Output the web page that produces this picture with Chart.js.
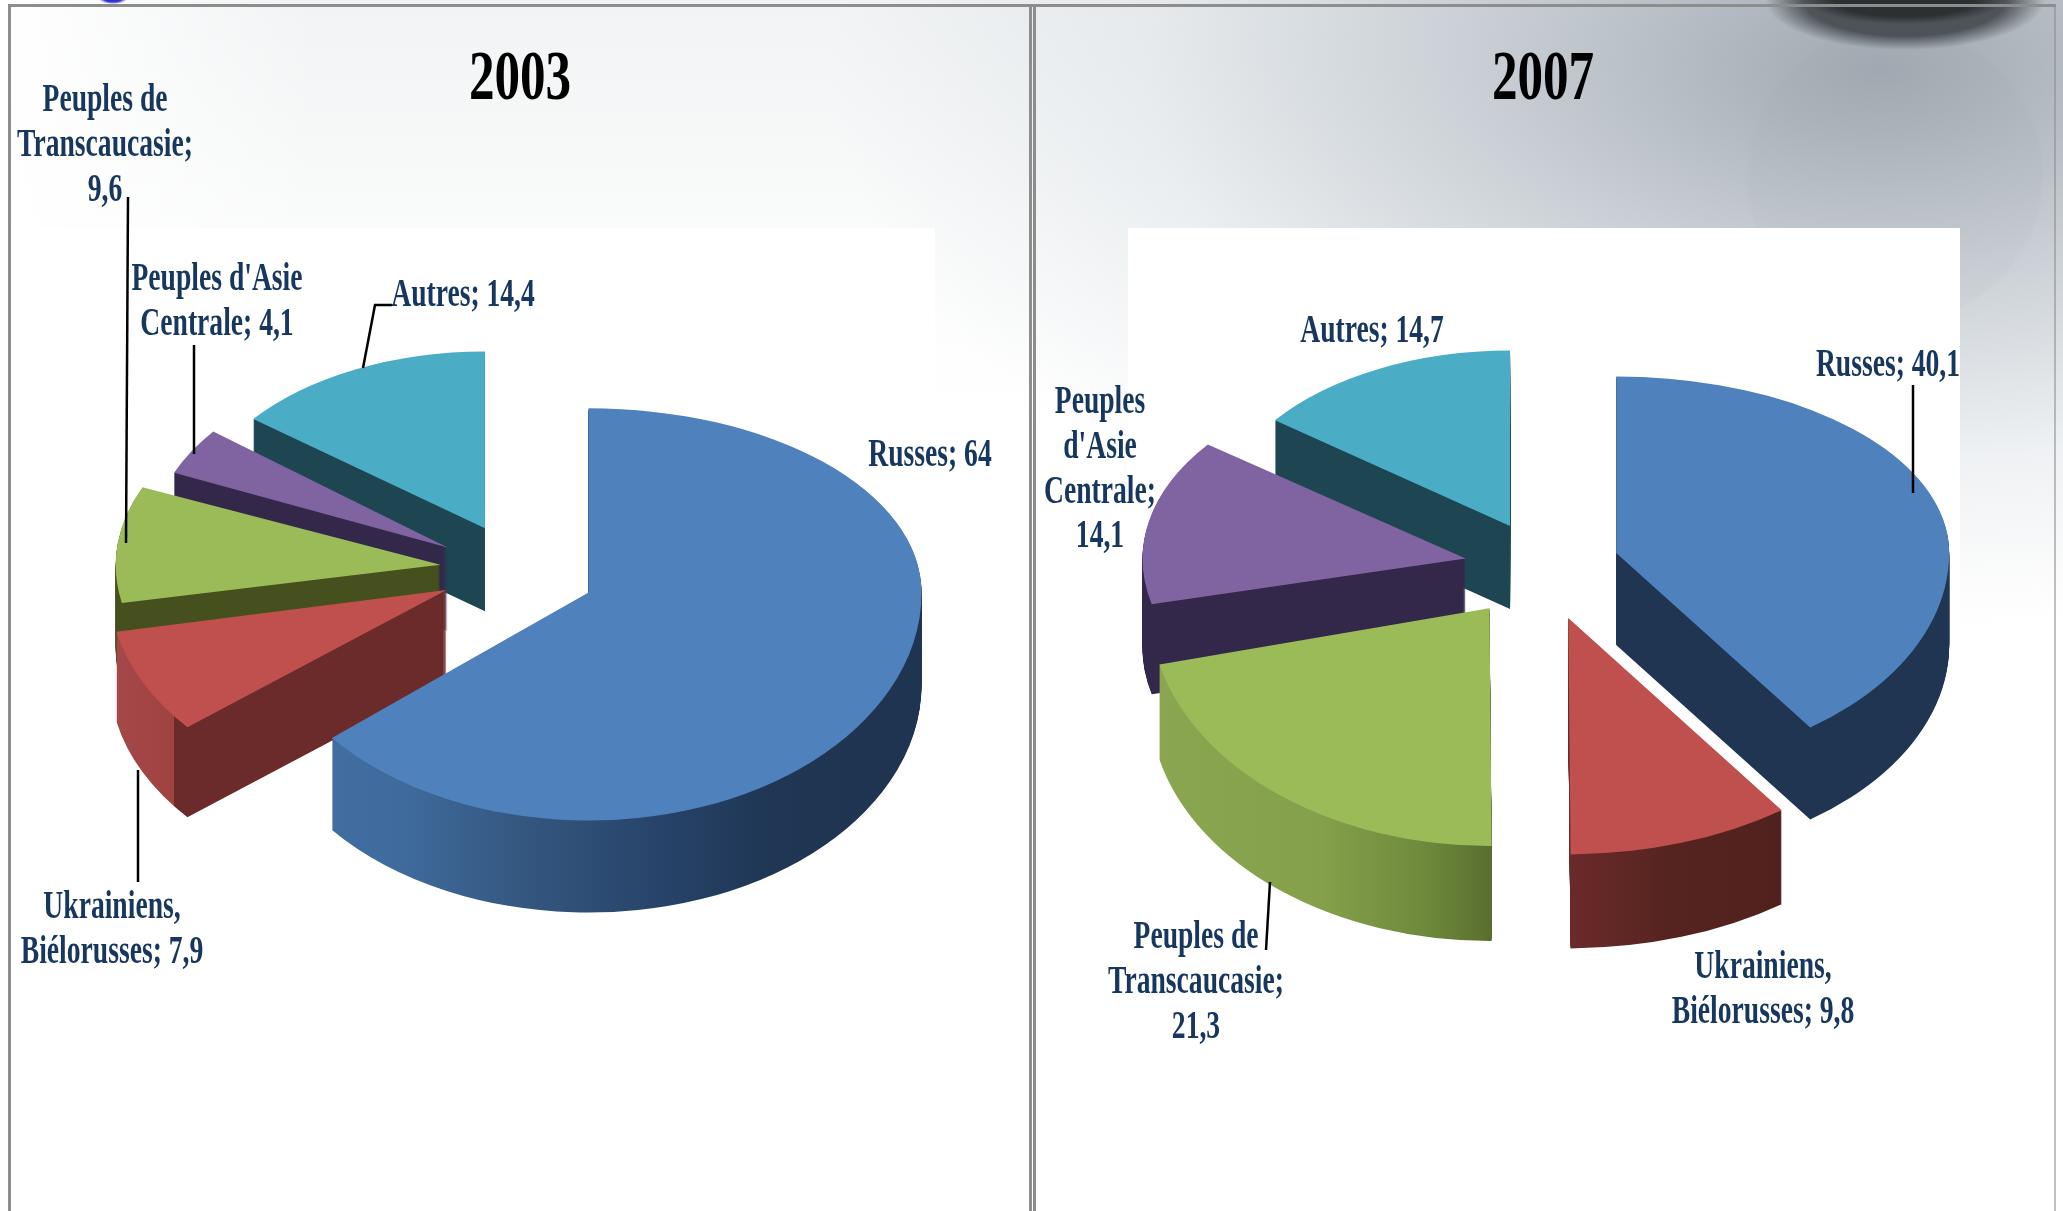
<!DOCTYPE html>
<html><head><meta charset="utf-8">
<style>
html,body{margin:0;padding:0;width:2063px;height:1211px;overflow:hidden;background:#fff}
#bg{position:absolute;left:0;top:0;width:2063px;height:1211px;background:
 radial-gradient(ellipse 14px 5px at 113px -1px,#3333cc 0 60%,rgba(51,51,204,0) 100%),
 radial-gradient(ellipse 100px 24px at 1905px 0px,#2b3033 0 70%,rgba(43,48,51,0) 100%),
 radial-gradient(ellipse 140px 50px at 1905px 0px,rgba(64,70,74,.88) 0 72%,rgba(90,96,100,0) 100%),
 radial-gradient(circle 150px at 1895px 175px,rgba(140,148,156,.06) 0 97%,rgba(150,158,166,0) 100%),
 radial-gradient(ellipse 1050px 560px at 1880px 70px,rgba(140,150,160,.8) 0,rgba(160,170,180,.55) 35%,rgba(205,213,220,.32) 70%,rgba(255,255,255,0) 100%),
 linear-gradient(90deg,#fff 0,rgba(255,255,255,0) 320px),
 linear-gradient(180deg,#f1f3f4 0,#fafbfb 230px,#fff 420px);}
.plot{position:absolute;background:#fff}
.rule{position:absolute;background:#8d8d8d}
canvas{position:absolute;left:0;top:0}
</style></head><body>
<div id="bg"></div>
<div class="plot" style="left:12px;top:228px;width:923px;height:983px"></div>
<div class="plot" style="left:1128px;top:228px;width:832px;height:983px"></div>
<div class="plot" style="left:935px;top:520px;width:1128px;height:691px;background:linear-gradient(180deg,rgba(255,255,255,0),#fff 380px)"></div>
<div class="rule" style="left:8px;top:5px;width:3px;height:1206px"></div>
<div class="rule" style="left:8px;top:4px;width:2048px;height:3px"></div>
<div class="rule" style="left:1029px;top:5px;width:3px;height:1206px"></div>
<div class="rule" style="left:1033px;top:5px;width:3px;height:1206px"></div>
<div class="rule" style="left:2054px;top:5px;width:2px;height:1206px;opacity:.55"></div>
<canvas id="c2003" width="2063" height="1211"></canvas>
<canvas id="c2007" width="2063" height="1211"></canvas>
<script src="https://cdn.jsdelivr.net/npm/chart.js@4"></script>
<script>
// ---- data ----
const categories = ['Russes', 'Ukrainiens, Biélorusses', 'Peuples de Transcaucasie', "Peuples d'Asie Centrale", 'Autres'];
const values2003 = [64, 7.9, 9.6, 4.1, 14.4];
const values2007 = [40.1, 9.8, 21.3, 14.1, 14.7];
const titles = ['2003', '2007'];
const colors = ['#4f81bd', '#c0504d', '#9bbb59', '#8064a2', '#4bacc6'];
const lines2003 = [['Russes; 64'], ['Ukrainiens,', 'Biélorusses; 7,9'], ['Peuples de', 'Transcaucasie;', '9,6'], ["Peuples d'Asie", 'Centrale; 4,1'], ['Autres; 14,4']];
const lines2007 = [['Russes; 40,1'], ['Ukrainiens,', 'Biélorusses; 9,8'], ['Peuples de', 'Transcaucasie;', '21,3'], ['Peuples', "d'Asie", 'Centrale;', '14,1'], ['Autres; 14,7']];

// ---- layout and style ----
const TEXT = '#17375e', LABEL_SQUEEZE = 0.69, TITLE_SQUEEZE = 0.73;
const LABEL_FONT = 'bold 40px "Liberation Serif"', TITLE_FONT = 'bold 70px "Liberation Serif"';
const BASE_TILT = 0.62;
const panels = [{
  id: 'c2003', title: titles[0], titleX: 520, titleY: 99, values: values2003, lines: lines2003,
  padding: {left: 0, right: 1051, top: 0, bottom: 73}, radius: 333,
  explode: [89, 68, 66, 68, 55], nudge: [[2, 0], [2, 3], [0, 0], [0, 0], [3, -10]],
  reach: [1, 1.01, .975, .895, .885], tiltUp: [.553, .62, .6, .63, .6], tiltDown: [.685, .64, .61, .64, .6],
  depth: [92, 90, 84, 83, 83], order: [4, 3, 2, 1, 0],
  anchors: [[930, 466], [112, 918], [105, 111], [217, 290], [463, 306]],
  leaders: [[[128, 197], [126, 543]], [[194, 345], [194, 454]], [[392, 305], [375, 305], [363, 368]], [[138, 770], [138, 882]]],
  walls: [
    [[-1, '#4470a6'], [-.55, '#3f6a9c'], [-.2, '#34577f'], [.2, '#28446a'], [.55, '#1f3654'], [1, '#1e3450']],
    [[-1, '#a6474a'], [-.82, '#9f4340'], [-.82, '#6c2b2b'], [1, '#6c2b2b']],
    [[-1, '#46501e'], [1, '#46501e']],
    [[-1, '#33274a'], [1, '#33274a']],
    [[-1, '#1e4652'], [1, '#1e4652']]
  ]
}, {
  id: 'c2007', title: titles[1], titleX: 1543, titleY: 99, values: values2007, lines: lines2007,
  padding: {left: 1015, right: 0, top: 0, bottom: 75}, radius: 333,
  explode: [79, 85, 74, 76, 65], nudge: [[2, 0], [3, 0], [-4, 4], [1, 0], [0, -6]],
  reach: [1, 1.1, 1.02, .97, .885], tiltUp: [.53, .62, .62, .585, .595], tiltDown: [.645, .645, .7, .6, .6],
  depth: [92, 94, 95, 90, 83], order: [4, 3, 0, 2, 1],
  anchors: [[1888, 376], [1763, 978], [1196, 948], [1100, 413], [1372, 342]],
  leaders: [[[1913, 385], [1913, 493]], [[1270, 882], [1266, 950]]],
  walls: [
    [[-1, '#1f3552'], [1, '#1f3552']],
    [[-1, '#6b2a2a'], [0, '#6b2a2a'], [.3, '#562420'], [1, '#4c1e1a']],
    [[-1, '#8ba650'], [-.5, '#84a04a'], [-.2, '#6f8a3c'], [0, '#5a6f2e'], [1, '#5a6f2e']],
    [[-1, '#33274a'], [1, '#33274a']],
    [[-1, '#1e4652'], [1, '#1e4652']]
  ]
}];

function shadedArc(arc, fill, reach) {
  const copy = Object.create(arc);
  const opts = Object.create(arc.options);
  if (fill) Object.defineProperty(opts, 'backgroundColor', {value: fill});
  copy.options = opts;
  copy.outerRadius = arc.outerRadius * reach;
  return copy;
}

// Draws one library arc twice, squashed about its own tip: a flatter half
// above the tip and a rounder half below it, for the perspective of the view.
function drawTilted(ctx, chart, shape, arc, tipX, tipY, up, down) {
  [[up, -5000, tipY + .5], [down, tipY, 5000]].forEach(([k, y0, y1]) => {
    ctx.save();
    ctx.beginPath(); ctx.rect(0, y0, chart.width, y1 - y0); ctx.clip();
    ctx.translate(tipX, tipY);
    ctx.scale(1, k);
    ctx.translate(-arc.x, -arc.y);
    shape.draw(ctx);
    ctx.restore();
  });
}

const pie3d = {
  id: 'pie3d',
  beforeDatasetDraw(chart, args, cfg) {
    const ctx = chart.ctx, arcs = args.meta.data;
    cfg.order.forEach(i => {
      const arc = arcs[i], mid = (arc.startAngle + arc.endAngle) / 2, e = cfg.explode[i];
      const tipX = arc.x + Math.cos(mid) * e + cfg.nudge[i][0];
      const tipY = arc.y + Math.sin(mid) * e * BASE_TILT + cfg.nudge[i][1];
      const g = ctx.createLinearGradient(arc.x - cfg.radius, 0, arc.x + cfg.radius, 0);
      cfg.walls[i].forEach(([p, c]) => g.addColorStop((p + 1) / 2, c));
      const wall = shadedArc(arc, g, cfg.reach[i]), top = shadedArc(arc, null, cfg.reach[i]);
      for (let d = cfg.depth[i]; d >= 1; d--) {
        drawTilted(ctx, chart, wall, arc, tipX, tipY + d, cfg.tiltUp[i], cfg.tiltDown[i]);
      }
      drawTilted(ctx, chart, top, arc, tipX, tipY, cfg.tiltUp[i], cfg.tiltDown[i]);
    });
    return false;
  },
  afterDraw(chart, args, cfg) {
    const ctx = chart.ctx;
    ctx.save();
    ctx.strokeStyle = '#000'; ctx.lineWidth = 2.5;
    cfg.leaders.forEach(pts => {
      ctx.beginPath();
      pts.forEach(([x, y], n) => n ? ctx.lineTo(x, y) : ctx.moveTo(x, y));
      ctx.stroke();
    });
    ctx.textAlign = 'center'; ctx.textBaseline = 'alphabetic';
    const put = (s, x, y, q) => ctx.fillText(s, x, y, ctx.measureText(s).width * q);
    ctx.fillStyle = '#000'; ctx.font = TITLE_FONT;
    put(cfg.title, cfg.titleX, cfg.titleY, TITLE_SQUEEZE);
    ctx.fillStyle = TEXT; ctx.font = LABEL_FONT;
    cfg.lines.forEach((lines, i) => {
      const [x, y] = cfg.anchors[i];
      lines.forEach((s, n) => put(s, x, y + n * 44.8, LABEL_SQUEEZE));
    });
    ctx.restore();
  }
};

panels.forEach(p => {
  new Chart(document.getElementById(p.id), {
    type: 'pie',
    data: {labels: categories, datasets: [{data: p.values, backgroundColor: colors, borderWidth: 0, radius: p.radius}]},
    options: {
      responsive: false, animation: false, events: [],
      layout: {padding: p.padding},
      plugins: {legend: {display: false}, tooltip: {enabled: false}, title: {display: false}, pie3d: p}
    },
    plugins: [pie3d]
  });
});
</script>
</body></html>
